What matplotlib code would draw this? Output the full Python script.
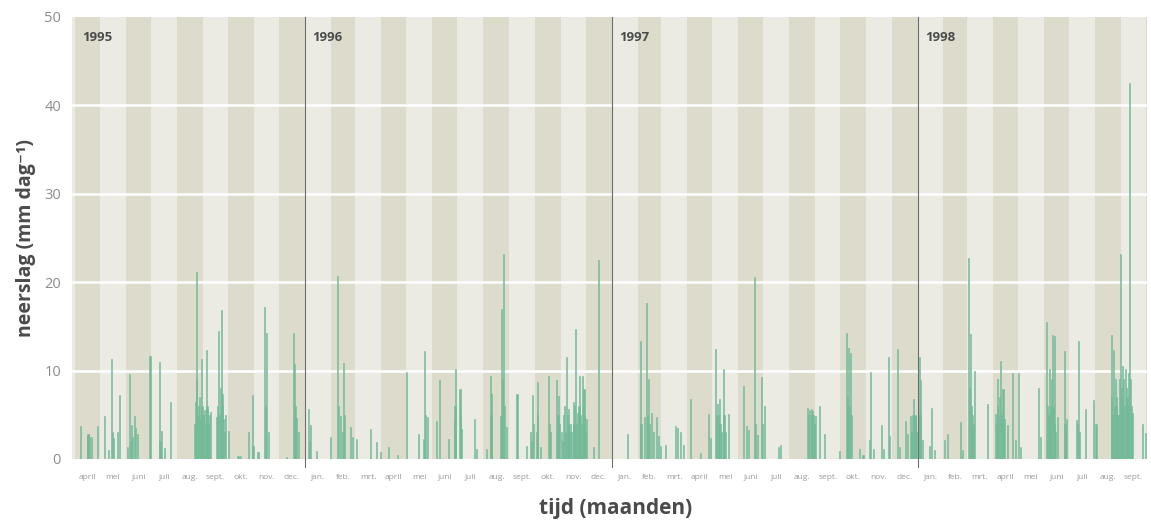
import numpy as np
import pandas as pd
import matplotlib
matplotlib.use('Agg')
from matplotlib import pyplot as plt

plt.rcParams['font.family'] = ['Open Sans', 'DejaVu Sans']

# dagelijkse neerslag (mm/dag); dag = aantal dagen na 1 april 1995
dag_1995 = [7, 15, 16, 17, 18, 20, 27, 36, 40, 44, 45, 47, 51, 54, 63, 66, 67, 68, 69, 72, 73, 75,
            90, 101, 102, 104, 107, 115, 143, 144, 145, 146, 147, 148, 149, 150, 151, 152, 153,
            154, 155, 156, 157, 158, 159, 160, 161, 162, 170, 171, 172, 173, 174, 175, 176, 177,
            178, 179, 180, 184, 195, 198, 208, 212, 213, 218, 220, 227, 228, 229, 231, 253, 261,
            262, 263, 264, 265, 267]
mm_1995 = [3.7, 2.6, 2.8, 2.8, 2.5, 2.5, 3.7, 4.9, 1.0, 11.3, 3.0, 2.4, 3.0, 7.2, 1.4, 9.6, 2.0,
           3.8, 2.5, 4.9, 3.5, 2.8, 11.7, 11.0, 2.0, 3.2, 1.2, 6.4, 4.0, 6.5, 9.0, 21.2, 5.0, 6.0,
           7.0, 4.5, 6.0, 11.3, 6.0, 5.0, 5.5, 4.0, 12.3, 6.0, 5.5, 4.0, 5.0, 5.3, 4.8, 6.0, 14.5,
           5.0, 8.0, 16.8, 6.0, 7.3, 4.5, 3.0, 5.0, 3.2, 0.3, 0.3, 3.0, 7.2, 1.5, 0.8, 0.8, 17.2,
           6.0, 14.3, 3.0, 0.2, 14.2, 5.0, 10.8, 6.0, 4.6, 3.0]

dag_1996 = [279, 280, 282, 289, 305, 314, 315, 317, 320, 321, 322, 329, 332, 336, 353, 360, 365,
            375, 385, 396, 410, 416, 418, 419, 421, 432, 435, 446, 453, 454, 455, 460, 461, 462,
            477, 480, 492, 496, 497, 498, 508, 510, 511, 512, 513, 515, 528, 539, 544, 545, 547,
            548, 551, 552, 553, 556, 566, 567, 568, 575, 576, 577, 578, 579, 581, 582, 584, 585,
            586, 587, 588, 589, 590, 591, 592, 593, 595, 596, 597, 598, 599, 600, 601, 602, 603,
            604, 605, 606, 607, 608, 609, 610, 611, 619, 625]
mm_1996 = [5.7, 2.0, 3.8, 0.9, 2.5, 20.7, 6.0, 4.9, 3.0, 10.9, 5.0, 3.6, 2.5, 2.3, 3.4, 1.9, 0.8,
           1.3, 0.5, 9.8, 2.8, 2.3, 12.2, 5.0, 4.7, 4.3, 8.9, 2.3, 4.5, 6.0, 10.2, 7.9, 5.0, 3.4,
           4.5, 1.1, 1.1, 9.4, 5.0, 7.4, 4.9, 17.0, 9.0, 23.2, 6.0, 3.6, 7.4, 1.5, 3.0, 2.0, 7.2,
           4.0, 3.0, 8.7, 5.0, 1.4, 9.4, 4.0, 3.0, 8.9, 3.0, 5.0, 7.1, 4.0, 3.0, 2.0, 5.0, 6.0,
           3.0, 11.5, 5.0, 4.0, 5.6, 3.0, 4.0, 3.0, 6.5, 4.0, 6.0, 14.7, 4.0, 5.2, 5.0, 6.0, 9.4,
           5.0, 4.0, 9.4, 6.0, 7.9, 5.0, 3.0, 4.5, 1.3, 22.5]

dag_1997 = [660, 675, 676, 680, 683, 684, 685, 686, 689, 691, 695, 697, 699, 705, 717, 720, 723,
            727, 735, 747, 757, 759, 765, 766, 767, 768, 769, 770, 771, 772, 774, 775, 776, 777,
            780, 798, 802, 804, 812, 813, 815, 820, 821, 823, 840, 842, 875, 876, 877, 879, 880,
            881, 882, 883, 884, 889, 895, 913, 921, 922, 923, 924, 925, 926, 927, 937, 941, 949,
            950, 953, 963, 965, 971, 973, 982, 984, 992, 994, 998, 999, 1000, 1001, 1002, 1003,
            1004, 1005]
mm_1997 = [2.8, 13.3, 4.0, 4.7, 17.7, 5.0, 9.0, 4.0, 5.2, 3.0, 4.7, 2.6, 1.5, 1.6, 3.7, 3.5, 3.0,
           1.6, 6.8, 0.7, 5.1, 2.4, 12.4, 5.0, 6.2, 4.0, 5.0, 6.8, 4.0, 3.0, 5.0, 10.2, 5.0, 3.0,
           5.1, 8.3, 3.7, 3.3, 20.6, 4.0, 2.7, 9.3, 4.0, 6.0, 1.4, 1.6, 5.8, 5.0, 5.5, 5.6, 5.0,
           5.4, 5.0, 4.0, 4.9, 6.0, 2.8, 0.9, 14.3, 6.0, 7.0, 12.5, 6.0, 12.0, 5.0, 1.1, 0.5, 2.2,
           9.8, 1.1, 3.9, 1.1, 11.5, 2.6, 12.4, 1.4, 4.3, 2.8, 4.9, 3.0, 5.0, 6.8, 4.0, 5.0, 4.9,
           3.0]

dag_1998 = [1008, 1009, 1010, 1012, 1020, 1023, 1026, 1038, 1042, 1057, 1060, 1067, 1068, 1069,
            1070, 1071, 1072, 1073, 1074, 1089, 1099, 1100, 1101, 1102, 1103, 1104, 1105, 1106,
            1107, 1108, 1109, 1110, 1113, 1119, 1123, 1127, 1129, 1150, 1153, 1160, 1161, 1162,
            1163, 1164, 1165, 1166, 1167, 1168, 1169, 1170, 1171, 1173, 1181, 1182, 1184, 1196,
            1197, 1198, 1199, 1206, 1216, 1219, 1237, 1238, 1239, 1240, 1241, 1242, 1243, 1244,
            1245, 1246, 1247, 1248, 1249, 1250, 1251, 1252, 1253, 1254, 1255, 1256, 1257, 1258,
            1259, 1260, 1261, 1262, 1274, 1278]
mm_1998 = [11.5, 5.0, 8.9, 2.2, 1.5, 5.8, 1.0, 2.2, 2.8, 4.2, 1.0, 22.7, 8.0, 14.1, 6.0, 3.3, 5.0,
           4.0, 10.0, 6.2, 5.1, 4.0, 6.0, 9.0, 5.0, 7.0, 11.1, 5.0, 4.0, 7.9, 3.0, 4.5, 3.9, 9.7,
           2.2, 9.7, 1.4, 8.0, 2.5, 15.5, 6.0, 5.0, 10.2, 4.0, 6.0, 9.0, 14.0, 6.0, 13.9, 4.0, 3.0,
           4.8, 12.2, 4.0, 4.5, 4.4, 4.0, 13.3, 3.0, 5.7, 6.7, 4.0, 14.0, 7.0, 5.0, 12.3, 6.0, 9.0,
           7.0, 6.0, 5.0, 5.0, 9.0, 23.2, 7.0, 8.0, 10.5, 9.0, 6.0, 10.2, 8.0, 7.0, 6.0, 9.7, 42.5,
           9.0, 6.0, 5.2, 4.0, 2.9]

jaren = ['1995', '1996', '1997', '1998']
maand_namen = ['jan.', 'feb.', 'mrt.', 'april', 'mei', 'juni', 'juli', 'aug.', 'sept.',
               'okt.', 'nov.', 'dec.']

start = pd.Timestamp('1995-04-01')
reeks = pd.Series(mm_1995 + mm_1996 + mm_1997 + mm_1998,
                  index=dag_1995 + dag_1996 + dag_1997 + dag_1998)
reeks = reeks.groupby(level=0).max()

maanden = pd.date_range('1995-04-01', '1998-10-01', freq='MS')
maand_dag = np.array([(m - start).days for m in maanden])

fig = plt.figure(figsize=(11.51, 5.26), dpi=100)
ax = fig.add_axes([0.0626, 0.1274, 0.934, 0.8403])

x0, x1 = -3, 1280
ax.set_xlim(x0, x1)
ax.set_ylim(0, 50)

donker = '#dddccc'
licht = '#ebebe4'

# maandbanden
for i in range(len(maanden) - 1):
    kleur = donker if i % 2 == 0 else licht
    ax.axvspan(maand_dag[i], maand_dag[i + 1], color=kleur, lw=0, zorder=0)
ax.axvspan(x0, maand_dag[0], color=licht, lw=0, zorder=0)
ax.axvspan(maand_dag[-1], x1, color=donker, lw=0, zorder=0)

for v in [10, 20, 30, 40]:
    ax.axhline(v, color='white', lw=1.8, zorder=1)

ax.bar(reeks.index, reeks.values, width=1.3, color='#74ba99', edgecolor='#74ba99', lw=0.4,
       zorder=2)

# jaargrenzen
for j, jaar in enumerate(jaren):
    d = (pd.Timestamp(jaar + '-01-01') - start).days
    if d > 0:
        ax.plot([d, d], [-0.9, 50], color='#6e6e6e', lw=0.8, zorder=3, clip_on=False)
    tx = max(d, 0) + 9
    ax.text(tx, 47.7, jaar, fontsize=9.5, fontweight='bold', color='#4a4a4a', va='center',
            zorder=4)

# maandlabels
for i in range(len(maanden) - 1):
    mid = (maand_dag[i] + maand_dag[i + 1]) / 2
    ax.text(mid, -2.1, maand_namen[maanden[i].month - 1], fontsize=6, color='#9a9a9a',
            ha='center', va='center')

ax.set_yticks([0, 10, 20, 30, 40, 50])
ax.set_xticks([])
ax.tick_params(axis='y', length=0, pad=8, labelsize=10.5, labelcolor='#8c8c8c')
for s in ax.spines.values():
    s.set_visible(False)

ax.set_ylabel('neerslag (mm dag⁻¹)', fontsize=14, fontweight='bold', color='#4a4a4a',
              labelpad=6)
fig.text(0.535, 0.022, 'tijd (maanden)', fontsize=15, fontweight='bold', color='#4a4a4a',
         ha='center')

fig.savefig('out.png', dpi=100)
